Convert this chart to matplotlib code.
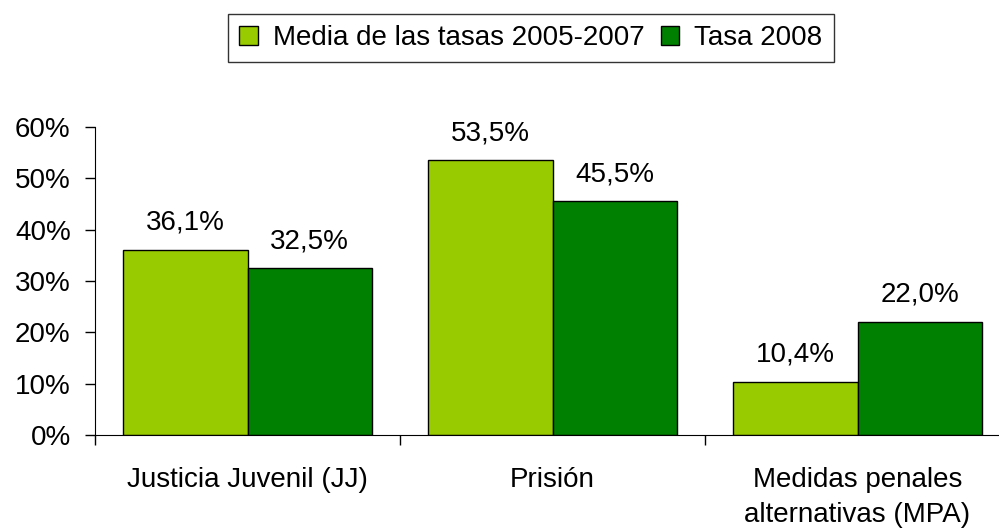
import matplotlib.pyplot as plt
import numpy as np

plt.rcParams['font.family'] = ['Liberation Sans', 'DejaVu Sans']

categories = ['Justicia Juvenil (JJ)', 'Prisión', 'Medidas penales\nalternativas (MPA)']
media_2005_2007 = [36.1, 53.5, 10.4]
tasa_2008 = [32.5, 45.5, 22.0]
series_names = ['Media de las tasas 2005-2007', 'Tasa 2008']
yticks = [0, 10, 20, 30, 40, 50, 60]

fs = 20

fig = plt.figure(figsize=(9.99, 5.30), dpi=100)
# axis runs a bit past the right edge, as in the original
ax = fig.add_axes([95 / 999, 95 / 530, 915 / 999, 308 / 530])

x = np.arange(len(categories))
w = 0.407
b1 = ax.bar(x - w / 2, media_2005_2007, w, color='#99CC00', edgecolor='black', linewidth=1, label=series_names[0])
b2 = ax.bar(x + w / 2, tasa_2008, w, color='#008000', edgecolor='black', linewidth=1, label=series_names[1])

# value labels above the bars
for bars, vals in [(b1, media_2005_2007), (b2, tasa_2008)]:
    for rect, v in zip(bars, vals):
        ax.annotate(f'{v:.1f}%'.replace('.', ','), (rect.get_x() + rect.get_width() / 2, v),
                    xytext=(0, 14.5), textcoords='offset points', ha='center', va='baseline', fontsize=fs)

ax.set_xlim(-0.5, 2.5)
ax.set_ylim(0, 60)
ax.set_yticks(yticks)
ax.set_yticklabels([f'{t}%' for t in yticks], fontsize=fs)
ax.set_xticks(x)
ax.set_xticklabels(categories, fontsize=fs, linespacing=1.45)
# boundary ticks (the one at -0.5 extends the y axis below zero)
ax.set_xticks([-0.5, 0.5, 1.5], minor=True)
ax.tick_params(axis='x', which='major', length=0, pad=23)
ax.tick_params(axis='x', which='minor', length=7.5, width=1, direction='out')
ax.tick_params(axis='y', length=7.5, width=1, direction='out', pad=10)

for s in ['top', 'right']:
    ax.spines[s].set_visible(False)

leg = fig.legend(loc='center', bbox_to_anchor=(531 / 999, 492 / 530), ncol=2, fontsize=fs,
                 frameon=True, fancybox=False, edgecolor='black', handlelength=0.65,
                 handleheight=0.65, handletextpad=0.55, columnspacing=0.6, borderpad=0.4)
leg.get_frame().set_linewidth(1)

plt.savefig('out.png', dpi=100)
